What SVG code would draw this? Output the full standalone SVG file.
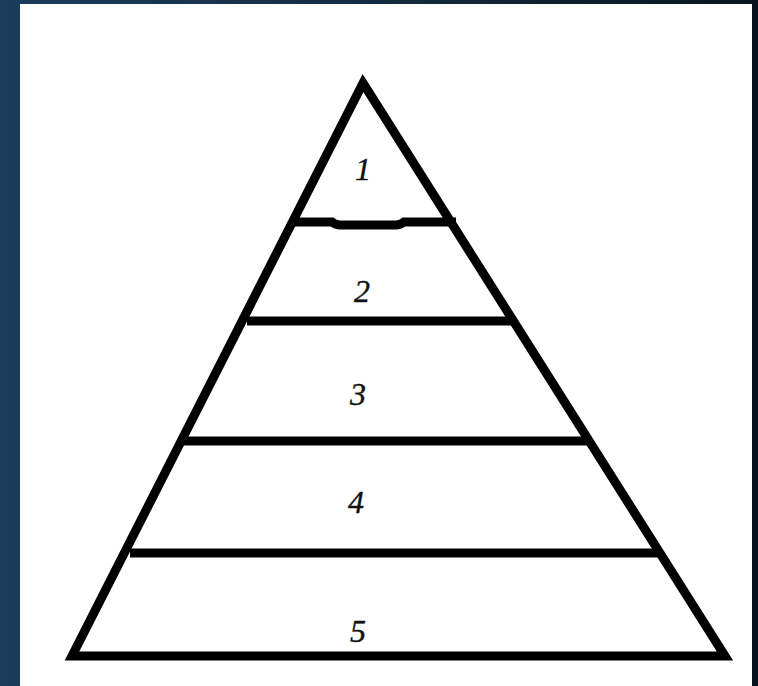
<svg xmlns="http://www.w3.org/2000/svg" width="758" height="686" viewBox="0 0 758 686">
  <defs>
    <linearGradient id="bg" x1="0" y1="0" x2="1" y2="0">
      <stop offset="0" stop-color="#1c3c5c"/>
      <stop offset="0.5" stop-color="#132b40"/>
      <stop offset="1" stop-color="#07141d"/>
    </linearGradient>
    <style>
      .ln { fill: none; stroke: #000; stroke-width: 9; stroke-linejoin: miter; stroke-linecap: butt; }
      .num { font-family: "Liberation Serif", "DejaVu Serif", serif; font-style: italic; font-size: 32px; fill: #111; stroke: #111; stroke-width: 0.4; text-anchor: middle; }
    </style>
  </defs>
  <rect x="0" y="0" width="758" height="686" fill="url(#bg)"/>
  <rect x="20" y="4" width="732" height="682" fill="#fff"/>
  <g id="pyramid">
    <path class="ln" d="M363,83 L725,656 L72,656 Z"/>
  </g>
  <g id="connectors">
    <path class="ln" d="M294,222 L332,222 Q336,225 340,225 L396,225 Q400,225 404,222 L456,222"/>
    <path class="ln" d="M247,321 L512,321"/>
    <path class="ln" d="M183,441 L588,441"/>
    <path class="ln" d="M130,553 L658,553"/>
  </g>
  <g id="level1"><text class="num" x="363" y="180">1</text></g>
  <g id="level2"><text class="num" x="362" y="302">2</text></g>
  <g id="level3"><text class="num" x="358" y="405">3</text></g>
  <g id="level4"><text class="num" x="356" y="513">4</text></g>
  <g id="level5"><text class="num" x="358" y="642">5</text></g>
</svg>
